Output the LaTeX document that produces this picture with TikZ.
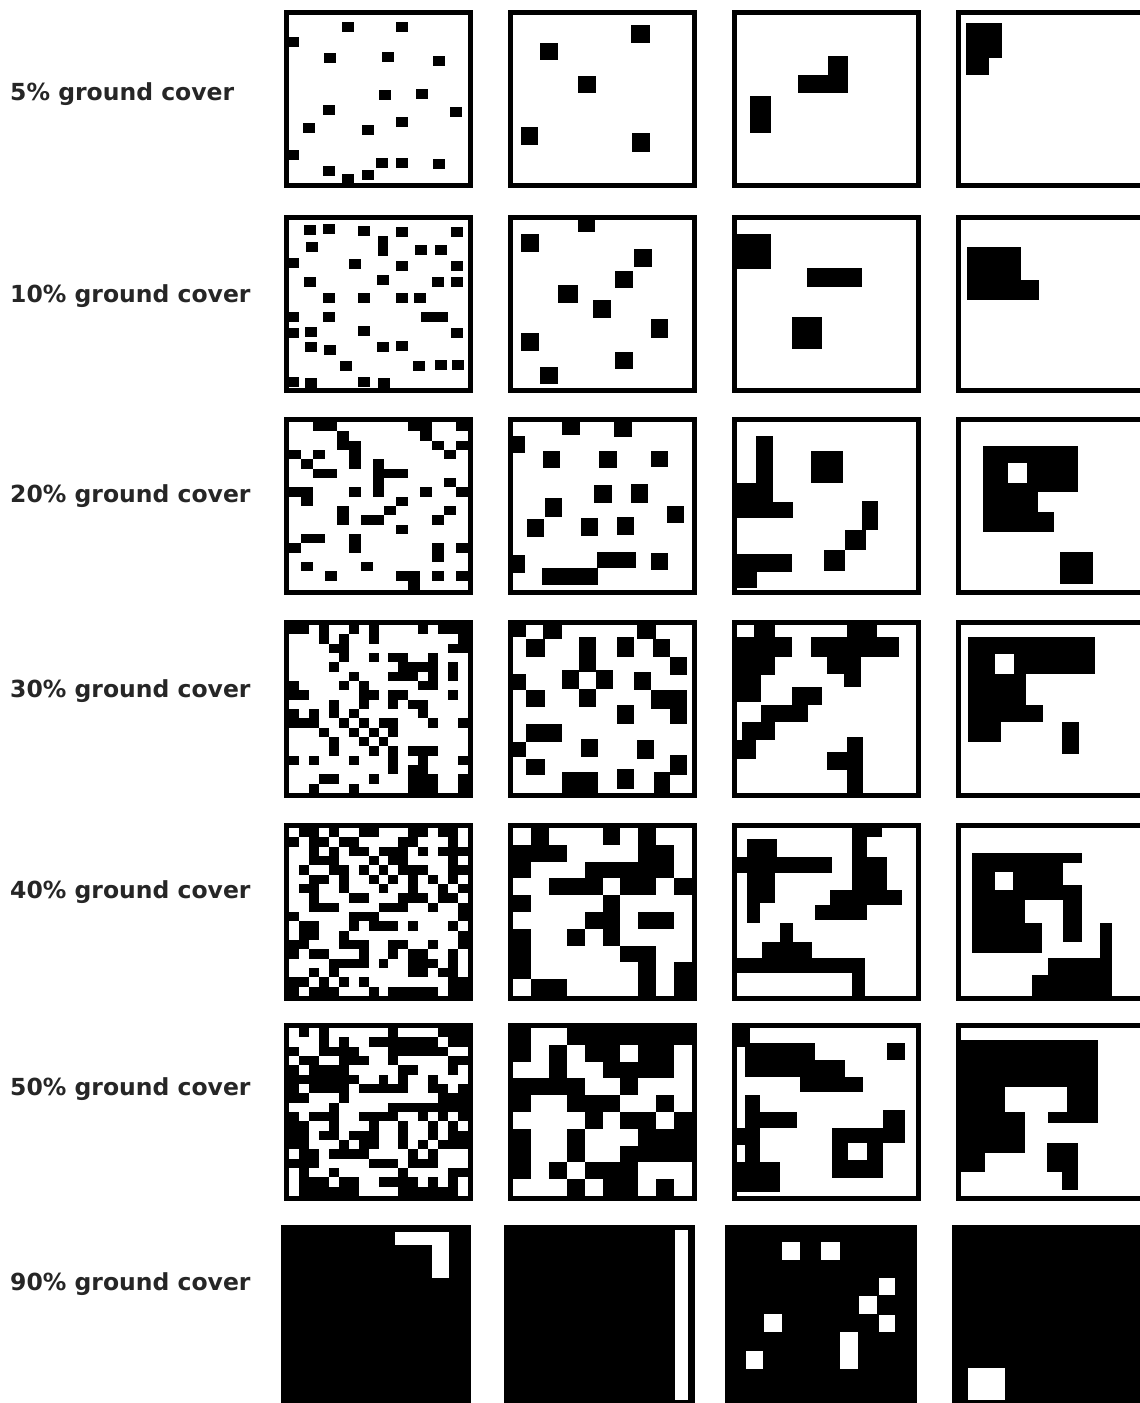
\documentclass[tikz,border=0pt]{standalone}
\usepackage{fontspec}
\setmainfont{DejaVu Sans}
\usepackage{tikz}

% random black cells inside the current panel: cols, rows, density
\newcommand{\randcells}[3]{%
  \pgfmathsetmacro{\cellw}{179/#1}%
  \pgfmathsetmacro{\cellh}{168/#2}%
  \foreach \i in {1,...,#1}{%
    \foreach \j in {1,...,#2}{%
      \pgfmathtruncatemacro{\ison}{rnd<#3}%
      \ifnum\ison=1
        \fill (5+\i*\cellw,5+\j*\cellh) rectangle ++(-\cellw,-\cellh);
      \fi
    }}}

\begin{document}
\begin{tikzpicture}[x=1pt, y=-1pt,
  frame/.style={draw=black, line width=5pt},
  lbl/.style={anchor=base west, inner sep=0pt, text=black!85,
              font=\fontsize{23.5}{28}\selectfont\bfseries},
  hole/.style={fill=white}
]
  \useasboundingbox (0,0) rectangle (1140,1403);
  \pgfmathsetseed{4242}

  % Labels
  \node[lbl] (l5)  at (10,100)  {5\% ground cover};
  \node[lbl] (l10) at (10,302)  {10\% ground cover};
  \node[lbl] (l20) at (10,502)  {20\% ground cover};
  \node[lbl] (l30) at (10,697)  {30\% ground cover};
  \node[lbl] (l40) at (10,898)  {40\% ground cover};
  \node[lbl] (l50) at (10,1095) {50\% ground cover};
  \node[lbl] (l90) at (10,1290) {90\% ground cover};

  % 5%
  \begin{scope}[shift={(284,10)}]
    \foreach \cx/\cy in {64/16.5, 118/16.5, 9/31.5, 46/47.5, 104/47, 155/50.5,
        101/84.5, 138/83.5, 45/100, 172/102, 25/118, 84/119.5, 118/112,
        9/144.5, 45/161, 64/169, 84/165, 98/152.5, 118/152.5, 155/153.5}
      \fill (\cx-6,\cy-5) rectangle ++(12,10);
  \end{scope}
  \begin{scope}[shift={(508,10)}]
    \foreach \a/\b/\c/\d in {32/33/50/50, 123/15/142/33, 70/66/88/83,
        13/117/30/135, 124/123/142/142}
      \fill (\a,\b) rectangle (\c,\d);
  \end{scope}
  \begin{scope}[shift={(732,10)}]
    \foreach \a/\b/\c/\d in {18/86/39/123, 66/65/116/83, 96/46/116/65}
      \fill (\a,\b) rectangle (\c,\d);
  \end{scope}
  \begin{scope}[shift={(956,10)}]
    \foreach \a/\b/\c/\d in {10/13/46/48, 10/48/33/65}
      \fill (\a,\b) rectangle (\c,\d);
  \end{scope}

  % 10%
  \begin{scope}[shift={(284,215)}]
    \foreach \cx/\cy in {26/15, 45/14, 80/16, 118/17, 173/17, 28/32, 137/35,
        157/35, 9/48, 71/49, 118/51, 173/51, 26/67, 99/65, 154/67, 173/67,
        45/83, 80/83, 118/83, 136/83, 9/102, 45/102, 9/118, 27/117, 80/116,
        173/118, 27/132, 46/135, 99/132, 118/131, 62/151, 135/151, 157/150,
        174/150, 9/167, 27/168, 80/167, 100/168}
      \fill (\cx-6,\cy-5) rectangle ++(12,10);
    \fill (94,21) rectangle (104,41);
    \fill (137,97) rectangle (164,107);
  \end{scope}
  \begin{scope}[shift={(508,215)}]
    \foreach \a/\b/\c/\d in {70/3/87/17, 13/19/31/37, 126/34/144/52,
        107/56/125/73, 50/70/70/88, 85/85/103/103, 143/104/160/123,
        13/118/31/136, 107/137/125/154, 32/152/50/169}
      \fill (\a,\b) rectangle (\c,\d);
  \end{scope}
  \begin{scope}[shift={(732,215)}]
    \foreach \a/\b/\c/\d in {3/19/39/54, 75/53/130/72, 60/102/90/134}
      \fill (\a,\b) rectangle (\c,\d);
  \end{scope}
  \begin{scope}[shift={(956,215)}]
    \foreach \a/\b/\c/\d in {11/32/65/85, 65/65/83/85}
      \fill (\a,\b) rectangle (\c,\d);
  \end{scope}

  % 20%
  \begin{scope}[shift={(284,417)}]
    \randcells{15}{18}{0.2}
  \end{scope}
  \begin{scope}[shift={(508,417)}]
    \foreach \a/\b/\c/\d in {54/3/72/18, 106/3/124/20, 3/19/17/36,
        35/34/52/51, 91/34/109/51, 143/34/160/50, 86/68/104/86,
        123/67/140/86, 37/81/54/100, 159/89/176/106, 19/102/36/120,
        73/101/90/119, 109/100/126/118, 3/138/17/156, 89/135/128/151,
        143/136/160/153, 34/151/90/168}
      \fill (\a,\b) rectangle (\c,\d);
  \end{scope}
  \begin{scope}[shift={(732,417)}]
    \foreach \a/\b/\c/\d in {24/19/41/101, 3/66/41/101, 41/85/61/101,
        79/34/111/66, 3/137/60/155, 3/155/25/171, 130/84/146/113,
        113/113/134/133, 92/133/113/154}
      \fill (\a,\b) rectangle (\c,\d);
  \end{scope}
  \begin{scope}[shift={(956,417)}]
    \foreach \a/\b/\c/\d in {27/29/122/75, 27/75/82/95, 27/95/98/115,
        104/135/137/167}
      \fill (\a,\b) rectangle (\c,\d);
    \fill[hole] (52,46) rectangle (71,66);
  \end{scope}

  % 30%
  \begin{scope}[shift={(284,620)}]
    \randcells{18}{18}{0.3}
  \end{scope}
  \begin{scope}[shift={(508,620)}]
    \foreach \a/\b/\c/\d in {2/2/18/17, 35/2/54/19, 18/19/37/37,
        71/17/88/52, 109/17/126/37, 129/2/148/19, 145/19/162/37,
        162/37/179/55, 54/50/71/69, 88/50/105/69, 71/69/88/87, 2/54/18/70,
        18/70/37/87, 126/52/143/70, 143/70/179/89, 162/89/179/104,
        109/85/126/104, 18/104/54/122, 2/122/18/137, 18/139/37/155,
        73/119/90/137, 129/120/146/139, 162/135/179/155, 54/152/90/174,
        109/149/126/169, 146/152/162/174}
      \fill (\a,\b) rectangle (\c,\d);
  \end{scope}
  \begin{scope}[shift={(732,620)}]
    \foreach \a/\b/\c/\d in {22/2/43/19, 4/17/60/37, 4/37/43/55,
        4/55/29/82, 115/2/145/17, 79/17/167/37, 95/37/129/54,
        112/54/129/67, 60/67/90/85, 29/85/76/102, 10/102/43/120,
        4/120/24/139, 115/117/131/174, 95/132/115/150}
      \fill (\a,\b) rectangle (\c,\d);
  \end{scope}
  \begin{scope}[shift={(956,620)}]
    \foreach \a/\b/\c/\d in {12/17/139/54, 12/54/70/85, 12/85/87/102,
        12/102/45/122, 106/102/123/134}
      \fill (\a,\b) rectangle (\c,\d);
    \fill[hole] (39,34) rectangle (58,54);
  \end{scope}

  % 40%
  \begin{scope}[shift={(284,823)}]
    \randcells{18}{18}{0.4}
  \end{scope}
  \begin{scope}[shift={(508,823)}]
    \randcells{10}{10}{0.4}
  \end{scope}
  \begin{scope}[shift={(732,823)}]
    \foreach \a/\b/\c/\d in {15/16/45/35, 1/34/100/50, 15/50/43/80,
        15/80/28/100, 120/4/150/14, 120/4/135/69, 135/34/155/67,
        98/67/170/82, 83/82/135/97, 48/100/61/119, 30/119/80/135,
        1/135/133/150, 120/150/133/174}
      \fill (\a,\b) rectangle (\c,\d);
  \end{scope}
  \begin{scope}[shift={(956,823)}]
    \foreach \a/\b/\c/\d in {16/30/126/40, 16/40/107/77, 107/62/126/119,
        16/77/69/100, 16/100/86/130, 144/100/156/174, 92/135/144/174,
        76/152/92/174}
      \fill (\a,\b) rectangle (\c,\d);
    \fill[hole] (39,49) rectangle (57,67);
  \end{scope}

  % 50%
  \begin{scope}[shift={(284,1023)}]
    \randcells{18}{18}{0.5}
  \end{scope}
  \begin{scope}[shift={(508,1023)}]
    \randcells{10}{10}{0.5}
  \end{scope}
  \begin{scope}[shift={(732,1023)}]
    \foreach \a/\b/\c/\d in {1/4/18/24, 13/20/83/37, 13/37/113/54,
        68/54/131/69, 155/20/173/37, 13/72/28/139, 28/89/65/105,
        1/105/13/122, 1/139/48/169, 100/105/151/155, 151/87/173/120}
      \fill (\a,\b) rectangle (\c,\d);
    \fill[hole] (116,120) rectangle (135,137);
  \end{scope}
  \begin{scope}[shift={(956,1023)}]
    \foreach \a/\b/\c/\d in {3/17/142/64, 111/64/142/89, 3/64/49/89,
        92/89/142/100, 3/89/69/130, 3/130/29/149, 91/120/122/149,
        106/149/122/167}
      \fill (\a,\b) rectangle (\c,\d);
  \end{scope}

  % frames
  \foreach \px in {284,508,732,956}
    \foreach \py in {10,215,417,620,823,1023}
      \draw[frame] (\px+2.5,\py+2.5) rectangle ++(184,173);

  % 90%
  \begin{scope}[shift={(281,1225)}]
    \fill (0,0) rectangle (190,178);
    \fill[hole] (114,7) rectangle (168,20);
    \fill[hole] (151,20) rectangle (168,53);
  \end{scope}
  \begin{scope}[shift={(504,1225)}]
    \fill (0,0) rectangle (191,178);
    \fill[hole] (171,5) rectangle (184,175);
  \end{scope}
  \begin{scope}[shift={(725,1225)}]
    \fill (0,0) rectangle (192,178);
    \foreach \a/\b/\c/\d in {57/17/75/35, 96/17/115/35, 154/53/170/70,
        134/71/152/89, 154/90/170/107, 39/89/57/107, 115/107/133/144,
        21/126/38/144}
      \fill[hole] (\a,\b) rectangle (\c,\d);
  \end{scope}
  \begin{scope}[shift={(952,1225)}]
    \fill (0,0) rectangle (190,178);
    \fill[hole] (16,143) rectangle (53,175);
  \end{scope}
\end{tikzpicture}
\end{document}
